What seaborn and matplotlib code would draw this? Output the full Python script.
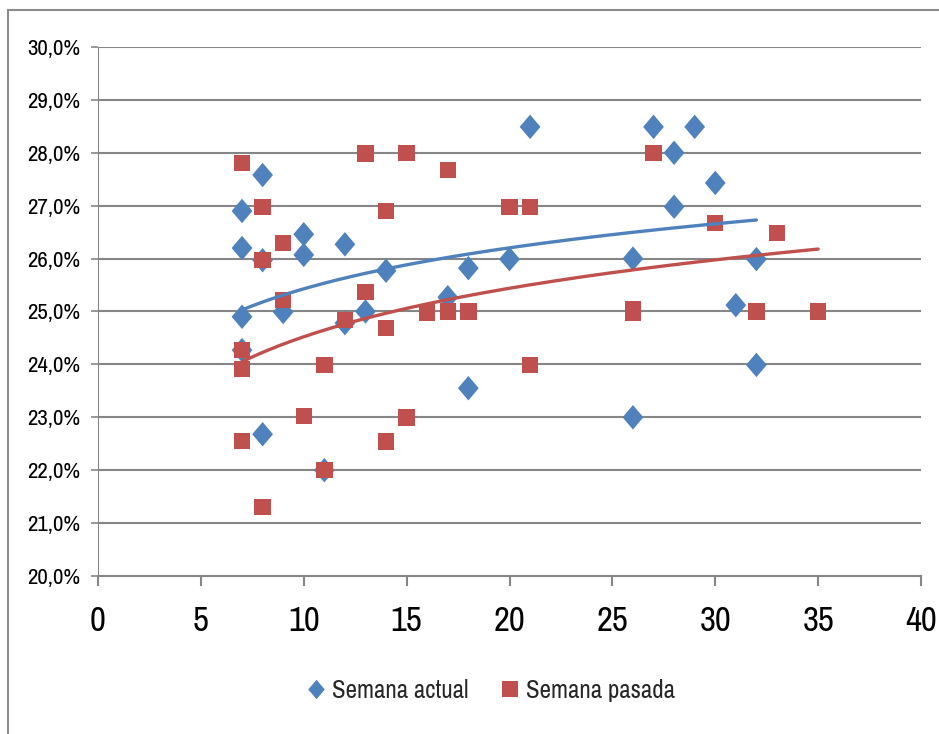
import numpy as np
import pandas as pd
import matplotlib
matplotlib.use("Agg")
import matplotlib.pyplot as plt
from matplotlib import font_manager
from matplotlib.path import Path
from matplotlib.lines import Line2D
from matplotlib.patches import Rectangle
import seaborn as sns

# ---- data ----
actual_x = [7, 7, 7, 7, 8, 8, 8, 9, 10, 10, 11, 12, 12, 13, 14, 17, 18, 18, 20, 21,
            26, 26, 27, 28, 28, 29, 30, 31, 32, 32]
actual_y = [26.9, 26.2, 24.9, 24.27, 27.58, 25.97, 22.68, 24.99, 26.46, 26.07, 22.0,
            26.27, 24.78, 25.0, 25.77, 25.27, 25.82, 23.55, 25.99, 28.49, 26.0, 23.0,
            28.49, 28.0, 26.98, 28.49, 27.43, 25.12, 25.99, 23.99]
pasada_x = [7, 7, 7, 7, 8, 8, 8, 9, 9, 10, 11, 11, 12, 13, 13, 14, 14, 14, 15, 15,
            16, 17, 17, 18, 20, 21, 21, 26, 26, 27, 30, 32, 33, 35]
pasada_y = [27.81, 24.27, 23.91, 22.55, 26.98, 25.97, 21.3, 26.3, 25.22, 23.02, 23.99,
            22.0, 24.84, 27.99, 25.37, 26.9, 24.69, 22.54, 28.0, 23.0, 24.98, 27.67,
            25.0, 25.0, 26.98, 26.98, 23.99, 25.05, 24.98, 28.0, 26.67, 25.0, 26.48, 25.0]
# logarithmic trend lines (y = a*ln(x) + b), coefficients
trend_actual = [1.1186, 22.853]
trend_pasada = [1.3234, 21.475]
series_names = ["Semana actual", "Semana pasada"]
x_ticks = [0, 5, 10, 15, 20, 25, 30, 35, 40]
y_ticks = [20, 21, 22, 23, 24, 25, 26, 27, 28, 29, 30]

BLUE = "#4F81BD"
RED = "#C0504D"
GRID = "#868686"

sns.set_style("white")
names = sorted({f.name for f in font_manager.fontManager.ttflist})
narrow = [n for n in names if ("Narrow" in n or "Condensed" in n)]
family = narrow[0] if narrow else "Lato"
plt.rcParams["font.family"] = [family, "DejaVu Sans"]

fig = plt.figure(figsize=(9.39, 7.34), dpi=100)
ax = fig.add_axes([98 / 939, 1 - 576 / 734, (921 - 98) / 939, (576 - 47) / 734])

# outer frame of the chart area
fig.patches.append(Rectangle((8 / 939, -0.05), 1.2, 1 - 10 / 734 + 0.05,
                             transform=fig.transFigure, fill=False,
                             edgecolor="#8c8c8c", linewidth=1.5))

diamond = Path([(0, 1), (0.85, 0), (0, -1), (-0.85, 0), (0, 1)],
               [Path.MOVETO, Path.LINETO, Path.LINETO, Path.LINETO, Path.CLOSEPOLY])

df_a = pd.DataFrame({"x": actual_x, "y": actual_y})
df_p = pd.DataFrame({"x": pasada_x, "y": pasada_y})

sns.scatterplot(data=df_a, x="x", y="y", ax=ax, marker=diamond, s=310,
                color=BLUE, edgecolor="none", linewidth=0, zorder=3, clip_on=False)
sns.scatterplot(data=df_p, x="x", y="y", ax=ax, marker="s", s=140,
                color=RED, edgecolor="none", linewidth=0, zorder=4, clip_on=False)

for df, (a, b), col in [(df_a, trend_actual, BLUE), (df_p, trend_pasada, RED)]:
    xs = np.linspace(df["x"].min(), df["x"].max(), 200)
    trend = pd.DataFrame({"x": xs, "y": a * np.log(xs) + b})
    sns.lineplot(data=trend, x="x", y="y", ax=ax, color=col, linewidth=2.4,
                 zorder=5, estimator=None, sort=False)

ax.set_xlim(0, 40)
ax.set_ylim(20, 30)
ax.set_xticks(x_ticks)
ax.set_yticks(y_ticks)
ax.set_xticklabels([str(v) for v in x_ticks])
ax.set_yticklabels([f"{v:.1f}%".replace(".", ",") for v in y_ticks])
ax.set_xlabel("")
ax.set_ylabel("")

ax.grid(False)
for v in y_ticks[1:]:
    ax.axhline(v, color=GRID, linewidth=1.5, zorder=1)

for s in ["top", "right"]:
    ax.spines[s].set_visible(False)
ax.spines["left"].set_color(GRID)
ax.spines["left"].set_linewidth(0.8)
ax.spines["bottom"].set_color(GRID)
ax.spines["bottom"].set_linewidth(1.5)

ax.tick_params(axis="y", which="both", left=True, length=5, width=1.2, color=GRID,
               labelsize=16.5, pad=8, labelcolor="black")
ax.tick_params(axis="x", which="both", bottom=True, length=7, width=1.5, color=GRID,
               labelsize=25, pad=14, labelcolor="black")

handles = [
    Line2D([], [], linestyle="none", marker=diamond, markersize=14, color=BLUE,
           markeredgewidth=0),
    Line2D([], [], linestyle="none", marker="s", markersize=11, color=RED,
           markeredgewidth=0),
]
fig.legend(handles, series_names, loc="center", bbox_to_anchor=(490 / 939, 1 - 690 / 734),
           ncol=2, frameon=False, fontsize=18, handletextpad=0.2, columnspacing=1.2,
           handlelength=0.9)

fig.savefig("out.png", dpi=100)
